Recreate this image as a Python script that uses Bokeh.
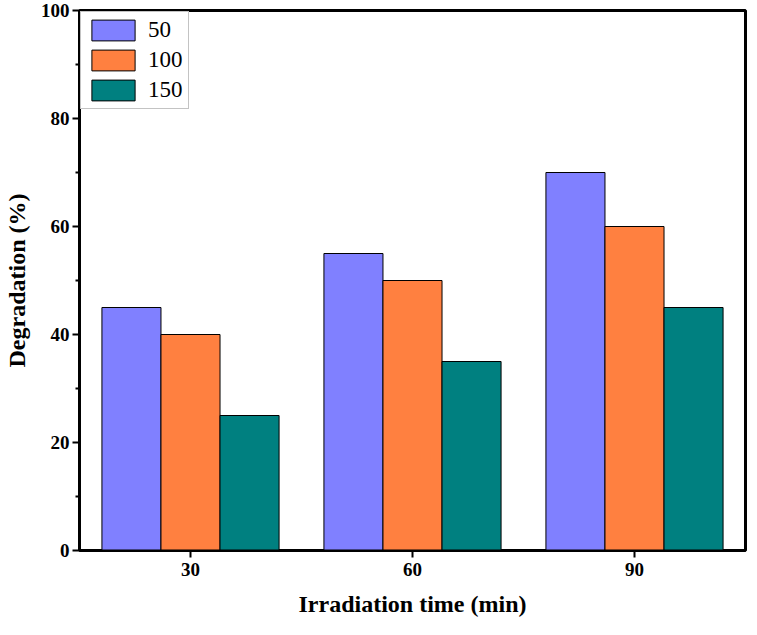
from bokeh.plotting import figure
from bokeh.models import ColumnDataSource, FactorRange, Range1d, Legend, LegendItem, FixedTicker
from bokeh.transform import dodge
from bokeh.embed import file_html
from bokeh.resources import INLINE

times = ["30", "60", "90"]
series_names = ["50", "100", "150"]
deg_50 = [45, 55, 70]
deg_100 = [40, 50, 60]
deg_150 = [25, 35, 45]
colors = ["#8080FF", "#FF8040", "#008080"]
y_ticks = [0, 20, 40, 60, 80, 100]
y_minor = [10, 30, 50, 70, 90]

source = ColumnDataSource(dict(t=times, s50=deg_50, s100=deg_100, s150=deg_150))

FONT = "Liberation Serif"

p = figure(width=748, height=619, x_range=FactorRange(factors=times, range_padding=0),
           y_range=Range1d(0, 100), output_backend="svg", toolbar_location=None,
           min_border_left=74, min_border_right=3, min_border_top=10, min_border_bottom=0)

bw = 0.266
r1 = p.vbar(x=dodge("t", -bw, range=p.x_range), top="s50", width=bw, source=source,
            fill_color=colors[0], line_color="black", line_width=1)
r2 = p.vbar(x=dodge("t", 0, range=p.x_range), top="s100", width=bw, source=source,
            fill_color=colors[1], line_color="black", line_width=1)
r3 = p.vbar(x=dodge("t", bw, range=p.x_range), top="s150", width=bw, source=source,
            fill_color=colors[2], line_color="black", line_width=1)

legend = Legend(items=[LegendItem(label=series_names[0], renderers=[r1]),
                       LegendItem(label=series_names[1], renderers=[r2]),
                       LegendItem(label=series_names[2], renderers=[r3])],
                location="top_left")
legend.label_text_font = FONT
legend.label_text_font_size = "23px"
legend.label_text_color = "black"
legend.glyph_width = 54
legend.glyph_height = 26
legend.spacing = 4
legend.padding = 5
legend.margin = 1
legend.label_standoff = 8
legend.border_line_color = "#888888"
legend.border_line_width = 1
legend.background_fill_alpha = 1
p.add_layout(legend)

p.xgrid.visible = False
p.ygrid.visible = False

p.yaxis.ticker = FixedTicker(ticks=y_ticks, minor_ticks=y_minor)
for ax in [p.xaxis[0], p.yaxis[0]]:
    ax.axis_line_width = 2
    ax.axis_line_color = "black"
    ax.major_tick_line_width = 2
    ax.minor_tick_line_width = 2
    ax.major_tick_line_color = "black"
    ax.minor_tick_line_color = "black"
    ax.major_tick_out = 7
    ax.major_tick_in = 0
    ax.minor_tick_out = 4
    ax.minor_tick_in = 0
    ax.major_label_text_font = FONT
    ax.major_label_text_font_style = "bold"
    ax.major_label_text_font_size = "19px"
    ax.major_label_text_color = "black"
    ax.axis_label_text_font = FONT
    ax.axis_label_text_font_style = "bold"
    ax.axis_label_text_font_size = "24px"
    ax.axis_label_text_color = "black"

p.yaxis.axis_label = "Degradation (%)"
p.xaxis.axis_label = "Irradiation time (min)"
p.xaxis.major_label_standoff = 5
p.xaxis.axis_label_standoff = 12
p.yaxis.major_label_standoff = 3
p.yaxis.axis_label_standoff = 8

p.outline_line_color = "black"
p.outline_line_width = 3

open("out.html", "w").write(file_html(p, INLINE))
